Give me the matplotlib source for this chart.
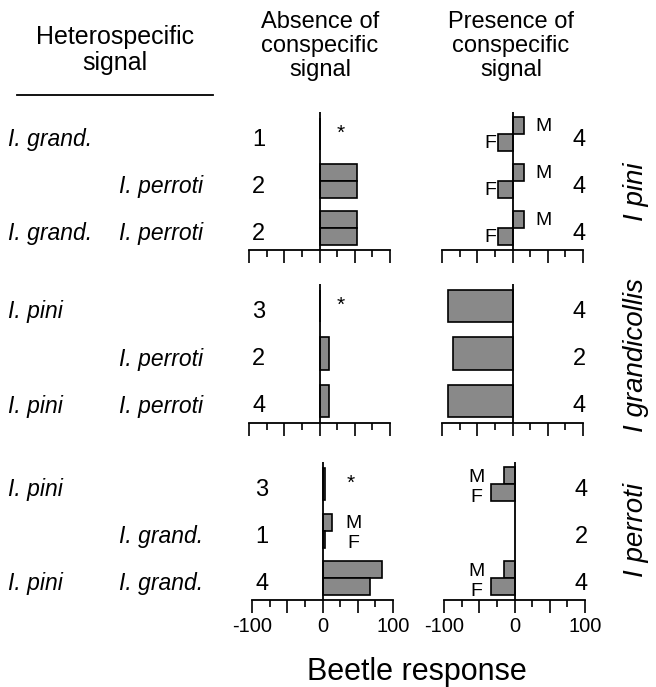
import matplotlib
matplotlib.use("Agg")
import matplotlib.pyplot as plt
from matplotlib.transforms import blended_transform_factory

plt.rcParams['font.family'] = ['Liberation Sans', 'DejaVu Sans']

# ---------------- data ----------------
species = ["I pini", "I grandicollis", "I perroti"]
het_col1 = [["I. grand.", "", "I. grand."],
            ["I. pini", "", "I. pini"],
            ["I. pini", "", "I. pini"]]
het_col2 = [["", "I. perroti", "I. perroti"],
            ["", "I. perroti", "I. perroti"],
            ["", "I. grand.", "I. grand."]]

# absence of conspecific signal
abs_single = [[1, None, None], [1, 14, 14], [3, None, None]]
abs_male = [[None, 53, 53], [None, None, None], [None, 14, 85]]
abs_female = [[None, 53, 53], [None, None, None], [None, 3, 68]]
abs_n = [[1, 2, 2], [3, 2, 4], [3, 1, 4]]
abs_mf_label = [[False, False, False], [False, False, False], [False, True, False]]
abs_star = [[True, False, False], [True, False, False], [True, False, False]]

# presence of conspecific signal
pres_single = [[None, None, None], [-91, -84, -91], [None, None, None]]
pres_male = [[16, 16, 16], [None, None, None], [-15, None, -15]]
pres_female = [[-21, -21, -21], [None, None, None], [-33, None, -33]]
pres_n = [[4, 4, 4], [4, 2, 4], [4, 2, 4]]
pres_mf_label = [[True, True, True], [False, False, False], [True, False, True]]

xticks_major = [-100, -50, 0, 50, 100]
xticks_minor = [-75, -25, 25, 75]
xtick_labels = ["-100", "0", "100"]

# ---------------- layout ----------------
W, H = 656, 687
fig = plt.figure(figsize=(W / 100, H / 100), dpi=100)

col_left_px = [[249, 442], [249, 442], [252, 444]]
row_top_px = [112, 284, 462]
row_bot_px = [250, 423, 600]
ax_w_px = 141

FILL = '#898989'
EDGE = 'black'
LW = 1.2
single_h = 0.68
pair_h = 0.37


def fx(px):
    return px / W


def fy(py):
    return 1 - py / H


def draw_panel(ax, single, male, female, nlist, mf_label, star, right_col, bottom):
    ax.set_xlim(-100, 100)
    ax.set_ylim(-0.47, 2.47)
    for s in ['left', 'right', 'top']:
        ax.spines[s].set_visible(False)
    ax.spines['bottom'].set_linewidth(1.3)
    ax.set_yticks([])
    ax.set_xticks(xticks_major)
    ax.set_xticks(xticks_minor, minor=True)
    ax.tick_params(axis='x', which='major', length=9, width=1.2, direction='out', pad=3,
                   labelsize=14.5)
    ax.tick_params(axis='x', which='minor', length=5, width=1.2, direction='out')
    if bottom:
        ax.set_xticklabels([xtick_labels[0], "", xtick_labels[1], "", xtick_labels[2]])
    else:
        ax.set_xticklabels([])
    ax.patch.set_visible(False)

    for i in range(3):
        yc = 2 - i
        if single[i] is not None:
            ax.barh(yc, single[i], height=single_h, color=FILL, edgecolor=EDGE, linewidth=LW)
        if male[i] is not None:
            ax.barh(yc + pair_h / 2, male[i], height=pair_h, color=FILL, edgecolor=EDGE, linewidth=LW)
        if female[i] is not None:
            ax.barh(yc - pair_h / 2, female[i], height=pair_h, color=FILL, edgecolor=EDGE, linewidth=LW)
        if mf_label[i]:
            if right_col and male[i] is not None and male[i] > 0:
                ax.text(44, yc + pair_h / 2 - 0.02, "M", ha='center', va='center', fontsize=14)
                ax.text(-31, yc - pair_h / 2 - 0.02, "F", ha='center', va='center', fontsize=14)
            elif right_col:
                ax.text(-54, yc + pair_h / 2 - 0.04, "M", ha='center', va='center', fontsize=14)
                ax.text(-54, yc - pair_h / 2 - 0.1, "F", ha='center', va='center', fontsize=14)
            else:
                ax.text(44, yc + pair_h / 2 - 0.02, "M", ha='center', va='center', fontsize=14)
                ax.text(44, yc - pair_h / 2 - 0.08, "F", ha='center', va='center', fontsize=14)
        if star is not None and star[i]:
            sx = 40 if bottom else 30
            ax.text(sx, yc + 0.02, "*", ha='center', va='center', fontsize=15)
        nx = 95 if right_col else -86
        ax.text(nx, yc - 0.12, str(nlist[i]), ha='center', va='center', fontsize=17)
    ax.axvline(0, color='black', linewidth=1.3, zorder=5)


for r in range(3):
    bottom_row = (r == 2)
    for c in range(2):
        left = col_left_px[r][c]
        ax = fig.add_axes([fx(left), fy(row_bot_px[r]), fx(ax_w_px),
                           (row_bot_px[r] - row_top_px[r]) / H])
        if c == 0:
            draw_panel(ax, abs_single[r], abs_male[r], abs_female[r], abs_n[r],
                       abs_mf_label[r], abs_star[r], False, bottom_row)
            tr = blended_transform_factory(fig.transFigure, ax.transData)
            for i in range(3):
                yc = 2 - i
                if het_col1[r][i]:
                    ax.text(fx(8), yc - 0.12, het_col1[r][i], transform=tr, ha='left',
                            va='center', fontsize=16.5, style='italic', clip_on=False)
                if het_col2[r][i]:
                    ax.text(fx(119), yc - 0.12, het_col2[r][i], transform=tr, ha='left',
                            va='center', fontsize=16.5, style='italic', clip_on=False)
        else:
            draw_panel(ax, pres_single[r], pres_male[r], pres_female[r], pres_n[r],
                       pres_mf_label[r], None, True, bottom_row)

# species labels on the right
species_y = [192, 355, 530]
for s, yy in zip(species, species_y):
    fig.text(fx(636), fy(yy), s, rotation=90, ha='center', va='center',
             fontsize=20, style='italic')

# headers
fig.text(fx(115), fy(50), "Heterospecific\nsignal", ha='center', va='center',
         fontsize=18, linespacing=1.1)
fig.text(fx(320), fy(46), "Absence of\nconspecific\nsignal", ha='center', va='center',
         fontsize=17, linespacing=1.12)
fig.text(fx(511), fy(46), "Presence of\nconspecific\nsignal", ha='center', va='center',
         fontsize=17, linespacing=1.12)
fig.add_artist(plt.Line2D([fx(17), fx(213)], [fy(95), fy(95)], color='black',
                          linewidth=1.3, transform=fig.transFigure))

fig.text(fx(417), fy(672), "Beetle response", ha='center', va='center', fontsize=22)

fig.savefig("out.png", dpi=100)
